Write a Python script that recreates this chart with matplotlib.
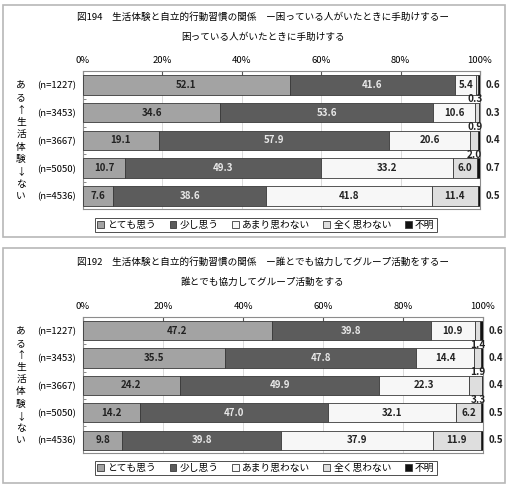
import numpy as np
import matplotlib
matplotlib.use("Agg")
import matplotlib.pyplot as plt
import matplotlib.patches as patches
import matplotlib.transforms as mtrans

plt.rcParams['font.family'] = ['Noto Sans CJK JP', 'DejaVu Sans']

# data
n_labels = ["(n=1227)", "(n=3453)", "(n=3667)", "(n=5050)", "(n=4536)"]
categories = ["とても思う", "少し思う", "あまり思わない", "全く思わない", "不明"]
side_chars = list("ある↑生活体験↓ない")
ticks = [0, 20, 40, 60, 80, 100]

# fig 194
title_194 = "図194　生活体験と自立的行動習慣の関係　ー困っている人がいたときに手助けするー"
sub_194 = "困っている人がいたときに手助けする"
totemo_194 = [52.1, 34.6, 19.1, 10.7, 7.6]
sukoshi_194 = [41.6, 53.6, 57.9, 49.3, 38.6]
amari_194 = [5.4, 10.6, 20.6, 33.2, 41.8]
mattaku_194 = [0.3, 0.9, 2.0, 6.0, 11.4]
fumei_194 = [0.6, 0.3, 0.4, 0.7, 0.5]

# fig 192
title_192 = "図192　生活体験と自立的行動習慣の関係　ー誰とでも協力してグループ活動をするー"
sub_192 = "誰とでも協力してグループ活動をする"
totemo_192 = [47.2, 35.5, 24.2, 14.2, 9.8]
sukoshi_192 = [39.8, 47.8, 49.9, 47.0, 39.8]
amari_192 = [10.9, 14.4, 22.3, 32.1, 37.9]
mattaku_192 = [1.4, 1.9, 3.3, 6.2, 11.9]
fumei_192 = [0.6, 0.4, 0.4, 0.5, 0.5]

colors = ["#a3a3a3", "#5c5c5c", "#f7f7f7", "#dedede", "#111111"]
txtcol = ["#222222", "#e8e8e8", "#222222", "#222222", "#222222"]

W, H = 517, 486
fig = plt.figure(figsize=(W/100, H/100), dpi=100)


def fx(px): return px/W
def fy(py): return 1-py/H


def panel(series, title, sub, box, axpx, ty, sy, legy):
  # outer frame
  fig.patches.append(patches.Rectangle((fx(box[0]), fy(box[3])), fx(box[2]-box[0]), (box[3]-box[1])/H,
                                       transform=fig.transFigure, fill=False, ec="#b8b8b8", lw=1.2))
  fig.text(0.508, fy(ty), title, ha="center", va="center", fontsize=6.9)
  fig.text(0.508, fy(sy), sub, ha="center", va="center", fontsize=6.9)

  l, r, t, b = axpx
  ax = fig.add_axes([fx(l), fy(b), fx(r-l), (b-t)/H])
  y = np.arange(len(n_labels))
  left = np.zeros(len(y))
  hs = []
  for i, vals in enumerate(series):
    vals = np.array(vals)
    h = ax.barh(y, vals, left=left, height=0.7, color=colors[i], edgecolor="#3a3a3a", lw=0.6,
                label=categories[i], zorder=3)
    hs.append(h)
    for j, v in enumerate(vals):
      if i < 3 or (i == 3 and v >= 4):
        ax.text(left[j]+v/2, j, f"{v:.1f}", ha="center", va="center", fontsize=7,
                fontweight="bold", color=txtcol[i], zorder=5)
      elif i == 3:
        ax.text(100.6, j+0.52, f"{v:.1f}", ha="right", va="center", fontsize=7.2,
                fontweight="bold", color="#222222", zorder=5)
      else:
        ax.annotate(f"{v:.1f}", (100, j), xytext=(4, 0), textcoords="offset points",
                    ha="left", va="center", fontsize=7, fontweight="bold", color="#222222",
                    annotation_clip=False)
    left += vals
  ax.set_xlim(0, 100)
  ax.set_ylim(4.47, -0.5)
  ax.xaxis.tick_top()
  ax.set_xticks(ticks)
  ax.set_xticklabels([f"{t}%" for t in ticks], fontsize=6.8)
  ax.tick_params(axis="x", direction="in", length=3, pad=4, color="#555555")
  ax.set_yticks(y)
  ax.set_yticklabels(n_labels, fontsize=6.9)
  ax.tick_params(axis="y", which="major", length=0, pad=5)
  ax.set_yticks(y[:-1]+0.5, minor=True)
  ax.tick_params(axis="y", which="minor", direction="in", length=2, color="#777777")
  ax.grid(axis="x", color="#d4d4d4", lw=0.6)
  ax.set_axisbelow(True)
  for s in ax.spines.values():
    s.set_color("#8c8c8c")
    s.set_linewidth(0.8)

  tr = mtrans.blended_transform_factory(fig.transFigure, ax.transData)
  for k, c in enumerate(side_chars):
    ax.text(fx(21), k*4/(len(side_chars)-1), c, transform=tr, ha="center", va="center", fontsize=7)

  leg = fig.legend(hs, categories, loc="center", bbox_to_anchor=(fx(266), fy(legy)), ncol=5,
                   fontsize=7, frameon=True, fancybox=False, handlelength=0.7, handleheight=0.7,
                   handletextpad=0.3, columnspacing=1.4, borderpad=0.25)
  leg.get_frame().set_edgecolor("#222222")
  leg.get_frame().set_linewidth(0.7)


panel([totemo_194, sukoshi_194, amari_194, mattaku_194, fumei_194], title_194, sub_194,
      (3, 5, 505, 237), (83, 480, 71, 209), 17, 37, 225)
panel([totemo_192, sukoshi_192, amari_192, mattaku_192, fumei_192], title_192, sub_192,
      (3, 248, 505, 483), (83, 483, 317, 453), 262, 282, 468)

fig.savefig("out.png", dpi=100)
